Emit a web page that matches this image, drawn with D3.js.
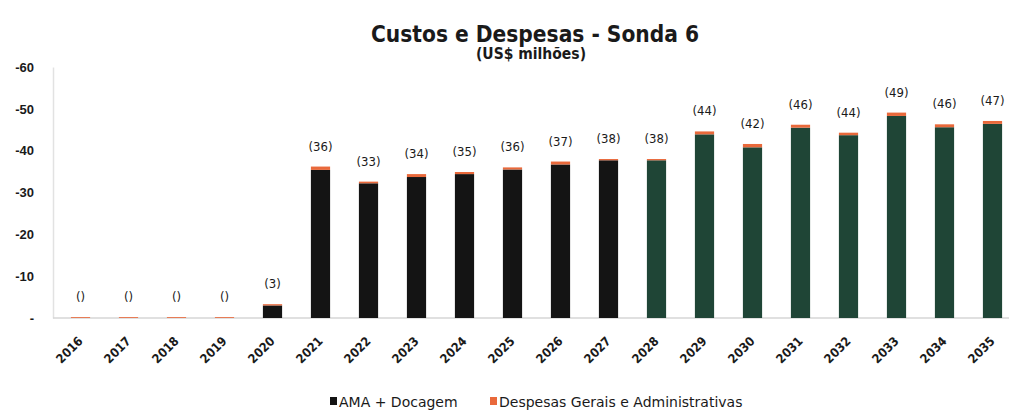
<!DOCTYPE html>
<html>
<head>
<meta charset="utf-8">
<script src="https://cdn.jsdelivr.net/npm/d3@7"></script>
<style>
    body { margin: 0; background: #fff; }
    svg { display: block; font-family: "DejaVu Sans Condensed", "DejaVu Sans", sans-serif; }
</style>
</head>
<body>
<div id="chart"></div>
<script>
    // values, US$ millions (shown as negatives on the axis)
    const years = ['2016', '2017', '2018', '2019', '2020', '2021', '2022', '2023', '2024', '2025',
                   '2026', '2027', '2028', '2029', '2030', '2031', '2032', '2033', '2034', '2035'];
    const ama  = [0, 0, 0, 0, 3.0, 35.4, 32.2, 33.7, 34.4, 35.5,
                  36.7, 37.7, 37.7, 43.9, 40.8, 45.5, 43.7, 48.3, 45.6, 46.4];
    const ga   = [0.2, 0.2, 0.2, 0.2, 0.3, 0.8, 0.4, 0.7, 0.5, 0.5,
                  0.7, 0.3, 0.3, 0.7, 0.8, 0.7, 0.6, 0.8, 0.7, 0.7];
    const totals = [0, 0, 0, 0, 3, 36, 33, 34, 35, 36, 37, 38, 38, 44, 42, 46, 44, 49, 46, 47];
    const y_ticks = [0, 10, 20, 30, 40, 50, 60];
    const series_names = ['AMA + Docagem', 'Despesas Gerais e Administrativas'];

    const width = 1009,
          height = 417;

    const black = '#141414',
          green = '#1f4536',
          orange = '#e9693b';

    let svg = d3.select('#chart')
        .append('svg')
        .attr('width', width)
        .attr('height', height);

    let x = d3.scaleBand()
        .domain(years)
        .range([56.5, 1016.5])
        .paddingInner(0.6)
        .paddingOuter(0.3);

    let y = d3.scaleLinear()
        .domain([0, 60])
        .range([318, 67]);

    // titles
    svg.append('text')
        .attr('x', 535).attr('y', 42)
        .attr('text-anchor', 'middle')
        .attr('font-size', 22.5)
        .attr('font-weight', 'bold')
        .attr('fill', '#1a1a1a')
        .text('Custos e Despesas - Sonda 6');

    svg.append('text')
        .attr('x', 531).attr('y', 59)
        .attr('text-anchor', 'middle')
        .attr('font-size', 15.5)
        .attr('font-weight', 'bold')
        .attr('fill', '#1a1a1a')
        .text('(US$ milhões)');

    // y axis
    let y_axis = svg.append('g')
        .attr('transform', 'translate(53,0)')
        .call(d3.axisLeft(y)
            .tickValues(y_ticks)
            .tickSize(0)
            .tickPadding(19)
            .tickFormat(d => d === 0 ? '-' : '-' + d));

    y_axis.select('.domain').attr('stroke', '#e2e2e2').attr('stroke-width', 1.5);
    y_axis.selectAll('text')
        .attr('font-size', 13)
        .attr('font-weight', 'bold')
        .attr('fill', '#1a1a1a');

    // baseline
    svg.append('line')
        .attr('x1', 53).attr('x2', width)
        .attr('y1', y(0)).attr('y2', y(0))
        .attr('stroke', '#d6d6d6')
        .attr('stroke-width', 1.5);

    // stacked bars
    const stack_data = years.map((yr, i) => ({ year: yr, ama: ama[i], ga: ga[i] }));
    const stacked = d3.stack().keys(['ama', 'ga'])(stack_data);

    let g = svg.append('g').classed('bars', true);

    g.selectAll('.ama')
        .data(stacked[0])
        .enter()
        .append('rect')
        .classed('ama', true)
        .attr('x', d => x(d.data.year))
        .attr('y', d => y(d[1]))
        .attr('width', x.bandwidth())
        .attr('height', d => y(d[0]) - y(d[1]))
        .attr('fill', d => +d.data.year >= 2028 ? green : black);

    g.selectAll('.ga')
        .data(stacked[1])
        .enter()
        .append('rect')
        .classed('ga', true)
        .attr('x', d => x(d.data.year))
        .attr('y', d => y(d[1]))
        .attr('width', x.bandwidth())
        .attr('height', d => y(d[0]) - y(d[1]))
        .attr('fill', orange);

    // value labels
    g.selectAll('.value')
        .data(stack_data)
        .enter()
        .append('text')
        .classed('value', true)
        .attr('x', d => x(d.year) + x.bandwidth() / 2)
        .attr('y', d => y(d.ama + d.ga) - 16)
        .attr('text-anchor', 'middle')
        .attr('font-size', 13)
        .attr('fill', '#1a1a1a')
        .text((d, i) => '(' + (totals[i] === 0 ? '' : totals[i]) + ')');

    // rotated year labels
    svg.append('g')
        .selectAll('text')
        .data(years)
        .enter()
        .append('text')
        .attr('transform', d => `translate(${x(d) + x.bandwidth() / 2 + 3},${342}) rotate(-45)`)
        .attr('text-anchor', 'end')
        .attr('font-size', 12.5)
        .attr('font-weight', 'bold')
        .attr('fill', '#1a1a1a')
        .text(d => d);

    // legend
    let legend = svg.append('g').attr('transform', 'translate(330,407)');
    const legend_x = [0, 160];
    const legend_colors = [black, orange];

    series_names.forEach((name, i) => {
        legend.append('rect')
            .attr('x', legend_x[i]).attr('y', -10)
            .attr('width', 7).attr('height', 8)
            .attr('fill', legend_colors[i]);
        legend.append('text')
            .attr('x', legend_x[i] + 9).attr('y', 0)
            .attr('font-size', 14)
            .attr('font-family', '"DejaVu Sans", sans-serif')
            .attr('fill', '#1a1a1a')
            .text(name);
    });
</script>
</body>
</html>
